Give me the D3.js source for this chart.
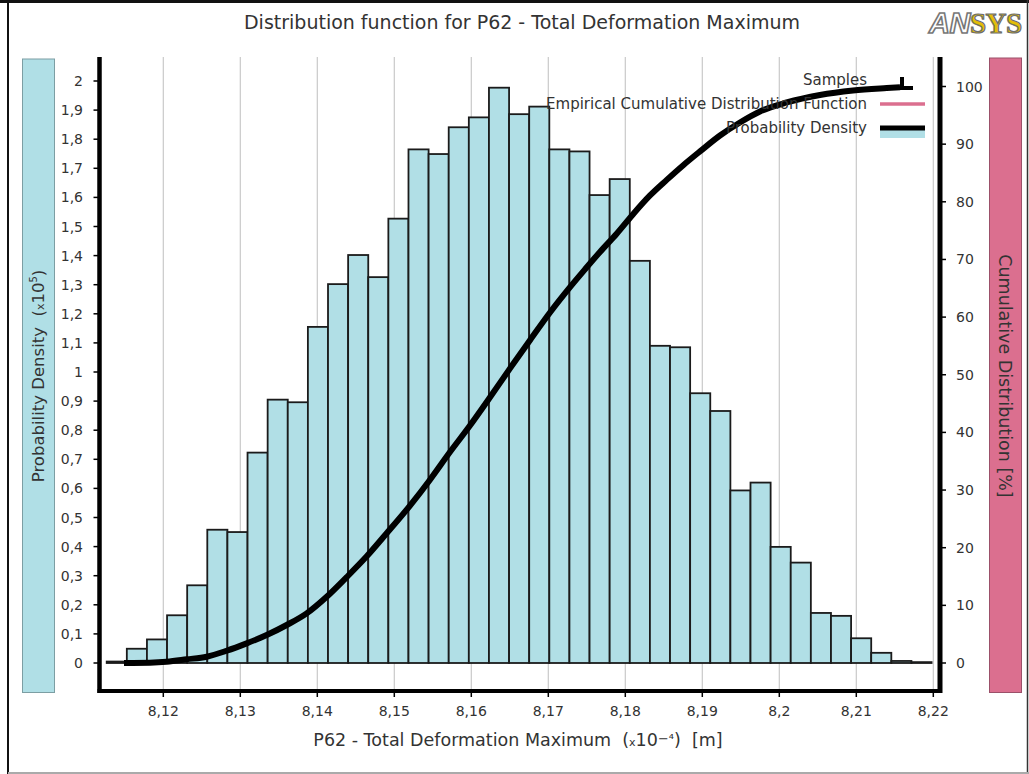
<!DOCTYPE html>
<html>
<head>
<meta charset="utf-8">
<script src="https://cdn.jsdelivr.net/npm/d3@7"></script>
<style>
  body { margin: 0; background: #fff; }
  svg { display: block; }
  text { font-family: "DejaVu Sans", Verdana, sans-serif; fill: #333; white-space: pre; }
</style>
</head>
<body>
<svg id="chart" width="1029" height="774"></svg>
<script>
// Histogram of the sampled output (density in units of 1e5 per m)
const binStart = 8.11265;      // x10^-4 m
const binWidth = 0.0026128;    // x10^-4 m
const density = [
  0.005, 0.049, 0.081, 0.164, 0.267, 0.458, 0.450, 0.723, 0.905, 0.896,
  1.155, 1.302, 1.402, 1.326, 1.527, 1.765, 1.749, 1.841, 1.875, 1.977,
  1.886, 1.912, 1.765, 1.758, 1.608, 1.663, 1.382, 1.090, 1.085, 0.927,
  0.866, 0.593, 0.620, 0.399, 0.345, 0.172, 0.162, 0.085, 0.035, 0.007,
  0.003
];

// Cumulative distribution of the samples (percent)
const cdfX = [
  8.11490, 8.11607, 8.12044, 8.12304, 8.12564, 8.12823, 8.13083, 8.13343,
  8.13603, 8.13862, 8.14122, 8.14382, 8.14642, 8.14901, 8.15204, 8.15464,
  8.15723, 8.15983, 8.16243, 8.16503, 8.16762, 8.17022, 8.17282, 8.17477,
  8.17671, 8.17888, 8.18104, 8.18321, 8.18538, 8.18753, 8.18970, 8.19230,
  8.19489, 8.19749, 8.20096, 8.20528, 8.20957, 8.21395, 8.21568
];
const cdfPct = [
  0.00, 0.00, 0.23, 0.64, 1.09, 2.13, 3.41, 4.85,
  6.59, 8.61, 11.49, 14.90, 18.50, 22.50, 27.30, 31.80,
  36.60, 41.20, 46.10, 51.10, 56.00, 60.80, 65.20, 68.30,
  71.30, 74.47, 77.90, 81.10, 83.80, 86.35, 88.74, 91.50,
  93.76, 95.67, 97.23, 98.53, 99.31, 99.74, 99.88
];

// Axis ticks
const xTicks = [8.12, 8.13, 8.14, 8.15, 8.16, 8.17, 8.18, 8.19, 8.2, 8.21, 8.22];
const leftTicks = [0, 0.1, 0.2, 0.3, 0.4, 0.5, 0.6, 0.7, 0.8, 0.9, 1,
                   1.1, 1.2, 1.3, 1.4, 1.5, 1.6, 1.7, 1.8, 1.9, 2];
const rightTicks = [0, 10, 20, 30, 40, 50, 60, 70, 80, 90, 100];

const legendItems = ["Samples", "Empirical Cumulative Distribution Function", "Probability Density"];

const comma = v => String(v).replace(".", ",");

const svg = d3.select("#chart");

const plot = { left: 99.5, right: 940, top: 57, bottom: 691 };

const x = d3.scaleLinear().domain([8.12, 8.22]).range([163.3, 933.3]);
const yL = d3.scaleLinear().domain([0, 2]).range([663, 81]);
const yR = d3.scaleLinear().domain([0, 100]).range([663, 86.5]);

// page frame
svg.append("line").attr("x1", 0).attr("x2", 1029).attr("y1", 1.5).attr("y2", 1.5)
  .attr("stroke", "#111").attr("stroke-width", 3);
svg.append("line").attr("x1", 8).attr("x2", 8).attr("y1", 0).attr("y2", 774)
  .attr("stroke", "#111").attr("stroke-width", 2);
svg.append("line").attr("x1", 1027.5).attr("x2", 1027.5).attr("y1", 0).attr("y2", 774)
  .attr("stroke", "#333").attr("stroke-width", 1.5);
svg.append("line").attr("x1", 8).attr("x2", 1029).attr("y1", 773).attr("y2", 773)
  .attr("stroke", "#aaa").attr("stroke-width", 2);

// title
svg.append("text").attr("x", 522).attr("y", 29).attr("text-anchor", "middle")
  .style("font-size", "19px").text("Distribution function for P62 - Total Deformation Maximum");

// logo
const logo = svg.append("text").attr("x", 929).attr("y", 33)
  .style("font-size", "29px").style("font-weight", "bold")
  .style("font-family", "'Liberation Serif', serif").style("letter-spacing", "-0.5px");
logo.append("tspan").text("AN").style("fill", "#fff").attr("stroke", "#777").attr("stroke-width", 1.6)
  .style("font-family", "'Liberation Sans', sans-serif").style("font-style", "italic");
logo.append("tspan").text("SYS").style("fill", "#e3bd08").attr("stroke", "#6d6d6d").attr("stroke-width", 1.2);

// side label panels
svg.append("rect").attr("x", 22.5).attr("y", 59).attr("width", 32).attr("height", 633.5)
  .attr("fill", "#b0dfe6").attr("stroke", "#7c9ea3").attr("stroke-width", 1);
svg.append("rect").attr("x", 989.5).attr("y", 58).attr("width", 32).attr("height", 634.5)
  .attr("fill", "#db6f8f").attr("stroke", "#9b5069").attr("stroke-width", 1);

const leftLabel = svg.append("text")
  .attr("transform", "translate(44,376) rotate(-90)").attr("text-anchor", "middle")
  .style("font-size", "16.5px");
leftLabel.append("tspan").text("Probability Density  (");
leftLabel.append("tspan").text("x").style("font-size", "11px");
leftLabel.append("tspan").text("10");
leftLabel.append("tspan").text("5").style("font-size", "10px").attr("dy", -7);
leftLabel.append("tspan").text(")").attr("dy", 7);

svg.append("text")
  .attr("transform", "translate(999,376) rotate(90)").attr("text-anchor", "middle")
  .style("font-size", "17.5px").text("Cumulative Distribution [%]");

// vertical grid
svg.append("g").selectAll("line").data(xTicks).join("line")
  .attr("x1", d => x(d)).attr("x2", d => x(d))
  .attr("y1", plot.top).attr("y2", plot.bottom)
  .attr("stroke", "#c9c9c9").attr("stroke-width", 1.2);

// histogram bars
svg.append("g").selectAll("rect").data(density).join("rect")
  .attr("x", (d, i) => x(binStart + i * binWidth))
  .attr("width", (d, i) => x(binStart + (i + 1) * binWidth) - x(binStart + i * binWidth))
  .attr("y", d => yL(d))
  .attr("height", d => yL(0) - yL(d))
  .attr("fill", "#b1dfe6")
  .attr("stroke", "#1b1b1b").attr("stroke-width", 1.8);

// empirical CDF (thin) and the samples (thick, on top)
const cdfLine = d3.line()
  .x((d, i) => x(cdfX[i]))
  .y(d => yR(d))
  .curve(d3.curveMonotoneX);

svg.append("path").datum(cdfPct).attr("d", cdfLine)
  .attr("fill", "none").attr("stroke", "#db6f8f").attr("stroke-width", 2);
svg.append("path").datum(cdfPct).attr("d", cdfLine)
  .attr("fill", "none").attr("stroke", "#000").attr("stroke-width", 6)
  .attr("stroke-linejoin", "round");

// axes
const axisColor = "#000";
// left
svg.append("line").attr("x1", plot.left).attr("x2", plot.left).attr("y1", plot.top).attr("y2", plot.bottom + 2)
  .attr("stroke", axisColor).attr("stroke-width", 4.5);
const gl = svg.append("g");
gl.selectAll("line").data(leftTicks).join("line")
  .attr("x1", plot.left - 6).attr("x2", plot.left)
  .attr("y1", d => yL(d)).attr("y2", d => yL(d))
  .attr("stroke", axisColor).attr("stroke-width", 1.5);
gl.selectAll("text").data(leftTicks).join("text")
  .attr("x", 83).attr("y", d => yL(d) + 5).attr("text-anchor", "end")
  .style("font-size", "14px").text(d => comma(d));

// right
svg.append("line").attr("x1", plot.right).attr("x2", plot.right).attr("y1", plot.top).attr("y2", plot.bottom + 2)
  .attr("stroke", axisColor).attr("stroke-width", 5);
const gr = svg.append("g");
gr.selectAll("line").data(rightTicks).join("line")
  .attr("x1", plot.right).attr("x2", plot.right + 6)
  .attr("y1", d => yR(d)).attr("y2", d => yR(d))
  .attr("stroke", axisColor).attr("stroke-width", 1.5);
gr.selectAll("text").data(rightTicks).join("text")
  .attr("x", 956).attr("y", d => yR(d) + 5).attr("text-anchor", "start")
  .style("font-size", "14px").text(d => d);

// bottom
svg.append("line").attr("x1", plot.left - 2).attr("x2", plot.right + 2).attr("y1", plot.bottom).attr("y2", plot.bottom)
  .attr("stroke", axisColor).attr("stroke-width", 4);
const gb = svg.append("g");
gb.selectAll("line").data(xTicks).join("line")
  .attr("x1", d => x(d)).attr("x2", d => x(d))
  .attr("y1", plot.bottom).attr("y2", plot.bottom + 6)
  .attr("stroke", axisColor).attr("stroke-width", 1.5);
gb.selectAll("text").data(xTicks).join("text")
  .attr("x", d => x(d)).attr("y", 716).attr("text-anchor", "middle")
  .style("font-size", "14px").text(d => comma(d));

const xLabel = svg.append("text").attr("x", 518).attr("y", 746).attr("text-anchor", "middle")
  .style("font-size", "17.5px");
xLabel.append("tspan").text("P62 - Total Deformation Maximum  (");
xLabel.append("tspan").text("x").style("font-size", "11px");
xLabel.append("tspan").text("10");
xLabel.append("tspan").text("\u2212\u2074").style("font-size", "13px").attr("dy", -3);
xLabel.append("tspan").text(")  [m]").attr("dy", 3);

// legend
const lg = svg.append("g");
lg.selectAll("text").data(legendItems).join("text")
  .attr("x", 867).attr("y", (d, i) => 85 + i * 24).attr("text-anchor", "end")
  .style("font-size", "15px").text(d => d);
lg.append("path").attr("d", "M902,77 V88 H913")
  .attr("fill", "none").attr("stroke", "#000").attr("stroke-width", 4);
lg.append("line").attr("x1", 880).attr("x2", 925).attr("y1", 104).attr("y2", 104)
  .attr("stroke", "#db6f8f").attr("stroke-width", 3.5);
lg.append("rect").attr("x", 880).attr("y", 129).attr("width", 45).attr("height", 9)
  .attr("fill", "#b1dfe6");
lg.append("line").attr("x1", 880).attr("x2", 925).attr("y1", 128).attr("y2", 128)
  .attr("stroke", "#000").attr("stroke-width", 5);
</script>
</body>
</html>
